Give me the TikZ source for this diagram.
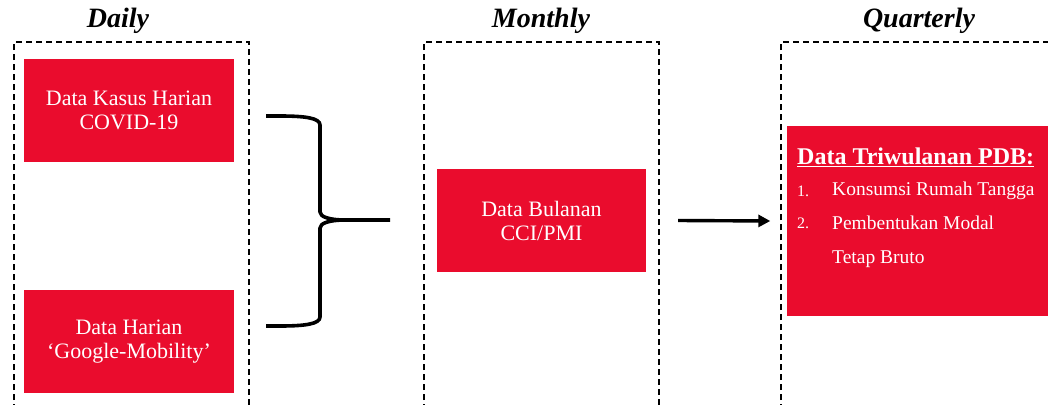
\documentclass[tikz,border=0pt]{standalone}
\usepackage{fontspec}
\setmainfont{Liberation Serif}
\usetikzlibrary{arrows.meta}
\definecolor{boxred}{RGB}{234,12,45}
\tikzset{
  frame/.style={draw=black, line width=1.5pt, dash pattern=on 6pt off 4pt},
  redbox/.style={fill=boxred, draw=none, text=white, align=center, inner sep=0pt,
    font=\fontsize{22}{24}\selectfont},
  title/.style={font=\fontsize{28}{30}\selectfont\bfseries\itshape, anchor=center},
  bracepath/.style={draw=black, line width=3.6pt, line join=round},
  arrowline/.style={draw=black, line width=3.4pt, -{Triangle[length=12pt,width=12pt]}},
  itemtext/.style={text=white, anchor=west, inner sep=0pt, font=\fontsize{19.5}{22}\selectfont}
}
\begin{document}
\begin{tikzpicture}[x=1pt,y=-1pt]
\useasboundingbox (0,0) rectangle (1048,404);
\clip (0,0) rectangle (1048,404);
% frames
\draw[frame] (14,420) -- (14,42) -- (249,42) -- (249,420);
\draw[frame] (424,420) -- (424,42) -- (659,42) -- (659,420);
\draw[frame] (781,420) -- (781,42) -- (1060,42);
% titles
\node[title] (tdaily) at (118,21) {Daily};
\node[title] (tmonthly) at (541,21) {Monthly};
\node[title] (tquarterly) at (919,21) {Quarterly};
% red boxes
\node[redbox, minimum width=210pt, minimum height=103pt] (covid) at (129,110.5) {Data Kasus Harian\\COVID-19};
\node[redbox, minimum width=210pt, minimum height=103pt] (google) at (129,341.5) {Data Harian\\`Google-Mobility'};
\node[redbox, minimum width=209pt, minimum height=103pt] (cci) at (541.5,220.5) {Data Bulanan\\CCI/PMI};
\fill[boxred] (787,126) rectangle (1060,316);
\node[inner sep=0pt] (pdb) at (787,221) {};
% quarterly text
\node[itemtext, font=\fontsize{24}{26}\selectfont\bfseries] (head) at (797,157) {\underline{Data Triwulanan PDB:}};
\node[itemtext, font=\fontsize{16}{18}\selectfont] (n1) at (797,191) {1.};
\node[itemtext] (i1) at (832,191) {Konsumsi Rumah Tangga};
\node[itemtext, font=\fontsize{16}{18}\selectfont] (n2) at (797,223) {2.};
\node[itemtext] (i2) at (832,223) {Pembentukan Modal};
\node[itemtext] (i3) at (832,259) {Tetap Bruto};
% brace
\coordinate (btop) at (266,116);
\coordinate (bbot) at (266,326);
\coordinate (btip) at (390,220);
\draw[bracepath] (btop) -- (280,116) .. controls (305,116) and (320,118) .. (320,125)
  -- (320,212) .. controls (320,217) and (330,220) .. (345,220) -- (btip);
\draw[bracepath] (bbot) -- (280,326) .. controls (305,326) and (320,324) .. (320,317)
  -- (320,228) .. controls (320,223) and (330,220) .. (345,220);
% arrow
\draw[arrowline] ([xshift=32pt]cci.east) -- ([xshift=-16pt]pdb.west);
\end{tikzpicture}
\end{document}
